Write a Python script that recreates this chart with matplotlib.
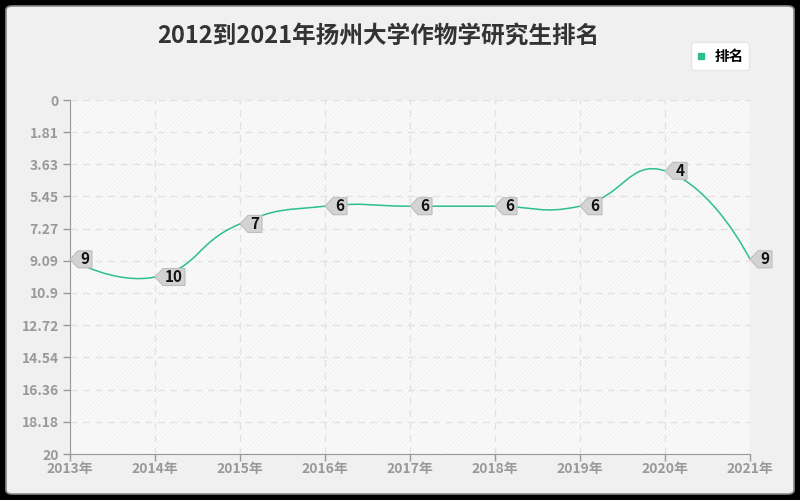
import numpy as np
import matplotlib.pyplot as plt
import matplotlib.transforms as mtransforms
from matplotlib.patches import FancyBboxPatch, Polygon, Rectangle, PathPatch
from matplotlib.path import Path
from matplotlib.lines import Line2D

plt.rcParams['font.family'] = ['Noto Sans CJK SC', 'DejaVu Sans']

years = [2013, 2014, 2015, 2016, 2017, 2018, 2019, 2020, 2021]
ranks = [9, 10, 7, 6, 6, 6, 6, 4, 9]
ytick_vals = [0, 1.81, 3.63, 5.45, 7.27, 9.09, 10.9, 12.72, 14.54, 16.36, 18.18, 20]
ytick_labels = ['0', '1.81', '3.63', '5.45', '7.27', '9.09', '10.9', '12.72', '14.54', '16.36', '18.18', '20']
title = '2012到2021年扬州大学作物学研究生排名'
series_name = '排名'

line_color = '#2dbf8c'

fig = plt.figure(figsize=(8, 5), dpi=100)
fig.patch.set_facecolor('black')
frame = FancyBboxPatch((6 / 800, 6 / 500), 788 / 800, 488 / 500,
                       boxstyle='round,pad=0,rounding_size=0.008',
                       transform=fig.transFigure, fc='#f0f0f0', ec='#8a8a8a', lw=1.2,
                       zorder=-10)
fig.patches.append(frame)

ax = fig.add_axes([70 / 800, 46 / 500, 680 / 800, 354 / 500])
ax.set_facecolor('#fafafa')
plt.rcParams['hatch.color'] = '#efefef'
plt.rcParams['hatch.linewidth'] = 0.5
ax.add_patch(Rectangle((0, 0), 1, 1, transform=ax.transAxes, fc='none',
                       ec='#efefef', hatch='////////', lw=0, zorder=0))

ax.set_xlim(years[0], years[-1])
ax.set_ylim(20, 0)
ax.set_xticks(years)
ax.set_xticklabels([f'{y}年' for y in years])
ax.set_yticks(ytick_vals)
ax.set_yticklabels(ytick_labels)
ax.tick_params(colors='#999999', labelsize=10, length=5, width=1)
for lab in ax.get_xticklabels() + ax.get_yticklabels():
    lab.set_fontweight('bold')
ax.tick_params(axis='x', pad=1)
ax.tick_params(axis='y', pad=3)
ax.grid(True, color='#e2e2e2', linestyle=(0, (5, 4)), linewidth=1)
ax.set_axisbelow(True)
for s in ['top', 'right']:
    ax.spines[s].set_visible(False)
for s in ['left', 'bottom']:
    ax.spines[s].set_color('#999999')

# smooth curve, echarts-like bezier (smooth = 0.5) computed in pixel space
fig.canvas.draw()
pts = ax.transData.transform(np.column_stack([years, ranks]))
n = len(pts)
verts = [pts[0]]
codes = [Path.MOVETO]
cp_out = pts[0].copy()
for i in range(1, n):
    p = pts[i]
    if i < n - 1:
        prev, nxt = pts[i - 1], pts[i + 1]
        vec = nxt - prev
        d0 = np.hypot(*(p - prev))
        d1 = np.hypot(*(nxt - p))
        r = d1 / (d0 + d1)
        cp_in = p - vec * 0.5 * (1 - r)
        new_out = p + vec * 0.5 * r
    else:
        cp_in = p.copy()
        new_out = p.copy()
    verts += [cp_out, cp_in, p]
    codes += [Path.CURVE4] * 3
    cp_out = new_out
path = Path(ax.transData.inverted().transform(np.array(verts)), codes)
ax.add_patch(PathPatch(path, fc='none', ec=line_color, lw=1.1, zorder=3))

# tag labels
for x, y in zip(years, ranks):
    txt = str(y)
    w = 22 if len(txt) == 1 else 30
    trans = fig.dpi_scale_trans + mtransforms.ScaledTranslation(x, y, ax.transData)
    poly = np.array([[0, 0], [8, 8.5], [w, 8.5], [w, -8.5], [8, -8.5]]) / 100
    ax.add_patch(Polygon(poly, closed=True, transform=trans, fc='#d3d3d3',
                         ec='#bdbdbd', lw=0.8, zorder=4, clip_on=False))
    ax.annotate(txt, (x, y), xytext=((8 + w) / 2 * 0.72, 0), textcoords='offset points',
                fontsize=11, fontweight='bold', color='#111111',
                ha='center', va='center', zorder=5, annotation_clip=False)

fig.text(378 / 800, 1 - 36 / 500, title, ha='center', va='center',
         fontsize=17, fontweight='bold', color='#333333')

handle = Line2D([], [], marker='s', color=line_color, linestyle='none', markersize=5)
leg = fig.legend([handle], [series_name], loc='center',
                 bbox_to_anchor=(720 / 800, 1 - 56 / 500), frameon=True,
                 fancybox=True, handlelength=0.6, handletextpad=0.6,
                 borderpad=0.4, prop={'weight': 'bold', 'size': 10.5})
leg.get_frame().set_facecolor('white')
leg.get_frame().set_edgecolor('#e6e6e6')
leg.get_frame().set_alpha(1)

fig.savefig('out.png', dpi=100, facecolor=fig.get_facecolor())
